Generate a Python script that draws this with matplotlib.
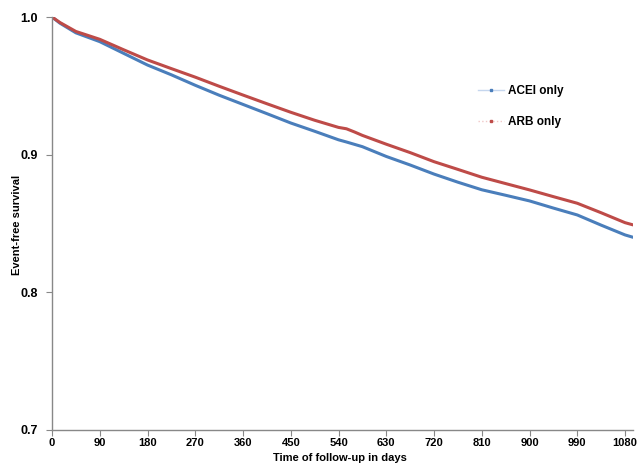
import numpy as np
import matplotlib
matplotlib.use("Agg")
import matplotlib.pyplot as plt
from matplotlib.lines import Line2D

plt.rcParams['font.family'] = ['Liberation Sans', 'DejaVu Sans']
plt.rcParams['font.weight'] = 'bold'

# follow-up days and event-free survival
days = [0, 15, 45, 90, 135, 180, 225, 270, 315, 360, 405, 450, 495, 540, 555, 570,
        585, 630, 675, 720, 765, 810, 855, 900, 945, 990, 1035, 1080, 1095]
acei = [1.0, 0.9955, 0.9885, 0.9821, 0.9736, 0.9651, 0.9580, 0.9504, 0.9432, 0.9365,
        0.9298, 0.9230, 0.9170, 0.9108, 0.9092, 0.9075, 0.9058, 0.8987, 0.8925, 0.8859,
        0.8800, 0.8745, 0.8705, 0.8664, 0.8612, 0.8562, 0.8488, 0.8417, 0.8400]
arb = [1.0, 0.9960, 0.9895, 0.9838, 0.9762, 0.9688, 0.9625, 0.9563, 0.9497, 0.9433,
       0.9370, 0.9308, 0.9250, 0.9198, 0.9188, 0.9165, 0.9140, 0.9076, 0.9015, 0.8949,
       0.8893, 0.8836, 0.8790, 0.8744, 0.8695, 0.8647, 0.8578, 0.8506, 0.8490]

xticks = list(range(0, 1081, 90))
yticks = [0.7, 0.8, 0.9, 1.0]

blue = '#4a7ebb'
red = '#be4b48'

W, H = 637, 466
fig = plt.figure(figsize=(W/100, H/100), dpi=100)
ax = fig.add_axes([52/W, 36/H, 581/W, 413/H])

ax.plot(days, acei, color=blue, lw=2.2, solid_capstyle='round')
ax.plot(days, arb, color=red, lw=2.2, solid_capstyle='round')

ax.set_xlim(0, 1095)
ax.set_ylim(0.7, 1.0)
ax.set_xticks(xticks)
ax.set_yticks(yticks)
ax.set_yticklabels(['%.1f' % v for v in yticks])
ax.tick_params(axis='x', labelsize=8, color='#888888', length=4, width=0.8, pad=2)
ax.tick_params(axis='y', labelsize=9, color='#888888', length=4, width=0.8, pad=6)

for s in ['top', 'right']:
    ax.spines[s].set_visible(False)
for s in ['left', 'bottom']:
    ax.spines[s].set_color('#888888')
    ax.spines[s].set_linewidth(1.0)

# axis titles placed by hand so they stay inside the canvas
fig.text(340/W, 1 - 458/H, 'Time of follow-up in days', fontsize=8, fontweight='bold',
         ha='center', va='center')
fig.text(17/W, 1 - 225/H, 'Event-free survival', fontsize=8, fontweight='bold',
         ha='center', va='center', rotation=90)

handles = [
    Line2D([], [], color='#c5d6ee', lw=1, marker='s', markersize=2,
           markerfacecolor=blue, markeredgecolor=blue),
    Line2D([], [], color='#f0c8c7', lw=1, ls=':', marker='s', markersize=2,
           markerfacecolor=red, markeredgecolor=red),
]
leg = ax.legend(handles, ['ACEI only', 'ARB only'], loc='upper left',
                bbox_to_anchor=(0.715, 0.86), frameon=False, fontsize=8.5,
                handlelength=2.2, handletextpad=0.3, labelspacing=1.55)

fig.savefig('out.png', dpi=100)
